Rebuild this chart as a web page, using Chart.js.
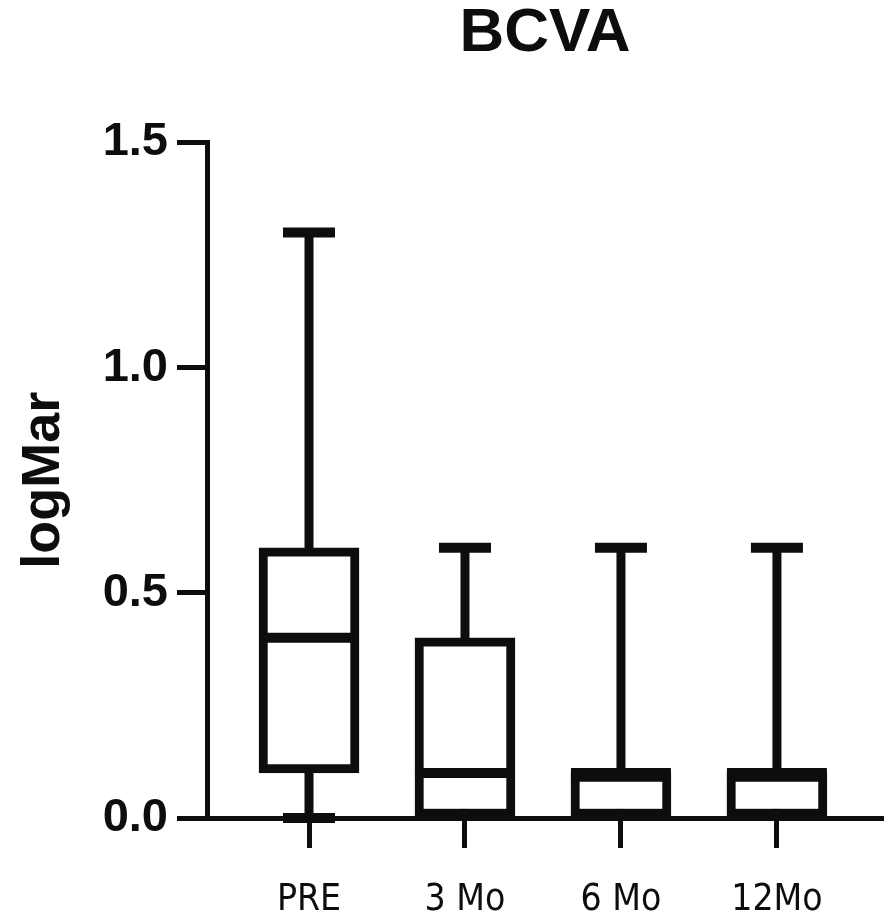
<!DOCTYPE html>
<html>
<head>
<meta charset="utf-8">
<title>BCVA</title>
<script src="https://cdn.jsdelivr.net/npm/chart.js@4.4.0/dist/chart.umd.min.js"></script>
<style>
    html, body { margin: 0; padding: 0; background: #fff; }
    #chart-wrap { width: 886px; height: 922px; }
</style>
</head>
<body>
<div id="chart-wrap"><canvas id="bcva-chart"></canvas></div>
<script>
// Box plot data (logMAR)
const categories = ['PRE', '3 Mo', '6 Mo', '12Mo'];
const minValues = [0.0, 0.0, 0.0, 0.0];
const q1Values = [0.1, 0.0, 0.0, 0.0];
const medianValues = [0.4, 0.1, 0.1, 0.1];
const q3Values = [0.6, 0.4, 0.1, 0.1];
const maxValues = [1.3, 0.6, 0.6, 0.6];
const yTicks = [0.0, 0.5, 1.0, 1.5];

const ink = '#0d0d0d';

// Whiskers, caps and medians drawn through the chart scales
const boxPlotPlugin = {
    id: 'boxPlot',
    beforeDatasetsDraw(chart) {
        const { ctx, scales: { x, y } } = chart;
        ctx.save();
        ctx.strokeStyle = ink;
        ctx.lineCap = 'butt';
        categories.forEach((_, i) => {
            const px = x.getPixelForValue(i);
            ctx.lineWidth = 9;
            ctx.beginPath();
            ctx.moveTo(px, y.getPixelForValue(maxValues[i]));
            ctx.lineTo(px, y.getPixelForValue(minValues[i]));
            ctx.stroke();

            ctx.lineWidth = 10;
            const caps = [];
            if (maxValues[i] > q3Values[i]) caps.push(maxValues[i]);
            if (minValues[i] < q1Values[i]) caps.push(minValues[i]);
            caps.forEach(v => {
                const py = y.getPixelForValue(v);
                ctx.beginPath();
                ctx.moveTo(px - 26, py);
                ctx.lineTo(px + 26, py);
                ctx.stroke();
            });
        });
        ctx.restore();
    },
    afterDatasetsDraw(chart) {
        const { ctx, scales: { y } } = chart;
        const meta = chart.getDatasetMeta(0);
        ctx.save();
        ctx.strokeStyle = ink;
        ctx.lineWidth = 10;
        meta.data.forEach((bar, i) => {
            const py = y.getPixelForValue(medianValues[i]);
            ctx.beginPath();
            ctx.moveTo(bar.x - bar.width / 2, py);
            ctx.lineTo(bar.x + bar.width / 2, py);
            ctx.stroke();
        });
        ctx.restore();
    }
};

const ctx = document.getElementById('bcva-chart').getContext('2d');

new Chart(ctx, {
    type: 'bar',
    data: {
        datasets: [{
            label: 'BCVA',
            data: categories.map((c, i) => ({ x: i, y: [q1Values[i], q3Values[i]] })),
            backgroundColor: '#fff',
            borderColor: ink,
            borderWidth: 9,
            borderSkipped: false,
            barThickness: 100
        }]
    },
    options: {
        responsive: true,
        maintainAspectRatio: false,
        animation: false,
        layout: { padding: { left: 0, right: 3, top: 0, bottom: 0 } },
        plugins: {
            legend: { display: false },
            tooltip: { enabled: false },
            title: {
                display: true,
                text: 'BCVA',
                fullSize: false,
                color: ink,
                font: { family: '"Liberation Sans", Arial, sans-serif', size: 62, weight: 'bold' },
                padding: { top: -3, bottom: 71 }
            }
        },
        scales: {
            x: {
                type: 'linear',
                min: -0.654,
                max: 3.68,
                offset: false,
                afterFit: s => { s.height = 104; },
                afterBuildTicks: s => { s.ticks = categories.map((c, i) => ({ value: i })); },
                border: { display: true, color: ink, width: 5 },
                grid: {
                    offset: false,
                    drawOnChartArea: false,
                    drawTicks: true,
                    tickLength: 30,
                    tickWidth: 5,
                    tickColor: ink
                },
                ticks: {
                    color: ink,
                    padding: 30,
                    maxRotation: 0,
                    font: { family: '"Liberation Sans Narrow", "DejaVu Sans Condensed", Lato, sans-serif', size: 37 },
                    callback: v => categories[v]
                }
            },
            y: {
                min: 0,
                max: 1.5,
                afterFit: s => { s.width = 207; },
                afterBuildTicks: s => { s.ticks = yTicks.map(v => ({ value: v })); },
                border: { display: true, color: ink, width: 5 },
                grid: {
                    drawOnChartArea: false,
                    drawTicks: true,
                    tickLength: 30,
                    tickWidth: 5,
                    tickColor: ink
                },
                ticks: {
                    color: ink,
                    padding: 9,
                    font: { family: '"Liberation Sans", Arial, sans-serif', size: 47, weight: 'bold' },
                    callback: v => Number(v).toFixed(1)
                },
                title: {
                    display: true,
                    text: 'logMar',
                    color: ink,
                    padding: { top: 12, bottom: 0 },
                    font: { family: '"Liberation Sans", Arial, sans-serif', size: 54, weight: 'bold' }
                }
            }
        }
    },
    plugins: [boxPlotPlugin]
});
</script>
</body>
</html>
